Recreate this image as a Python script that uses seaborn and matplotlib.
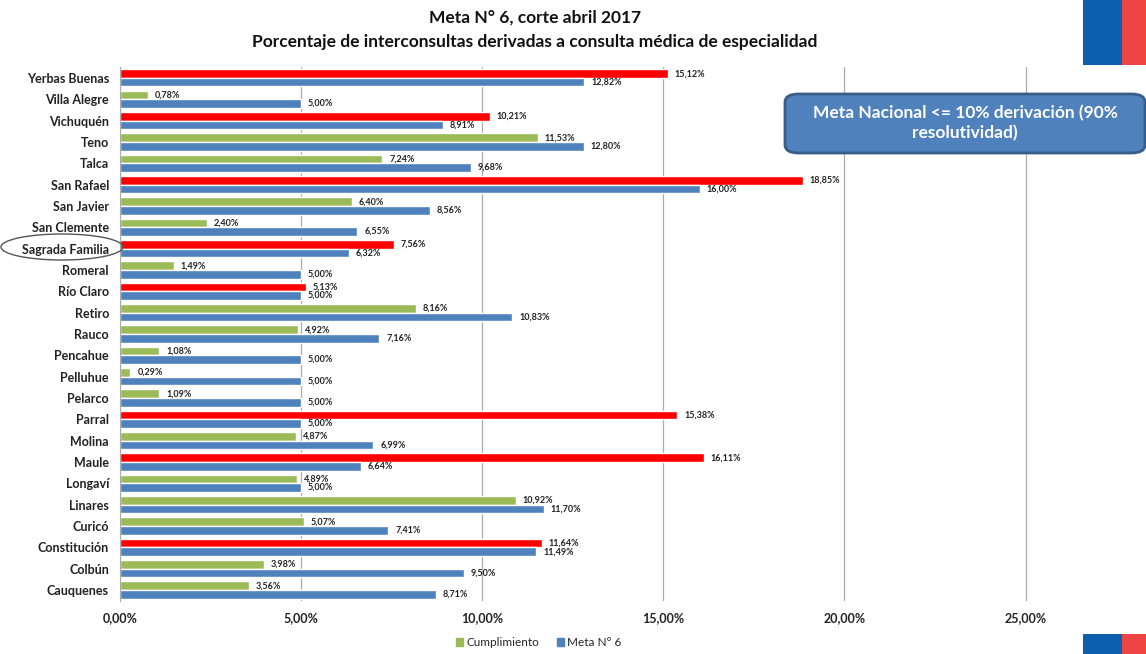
import numpy as np
import pandas as pd
import matplotlib
matplotlib.use("Agg")
import matplotlib.pyplot as plt
import seaborn as sns
from matplotlib.patches import Patch, Ellipse, Rectangle, FancyBboxPatch
from matplotlib.ticker import FuncFormatter

# data (fractions)
comunas = ['Yerbas Buenas', 'Villa Alegre', 'Vichuquén', 'Teno', 'Talca', 'San Rafael',
           'San Javier', 'San Clemente', 'Sagrada Familia', 'Romeral', 'Río Claro', 'Retiro',
           'Rauco', 'Pencahue', 'Pelluhue', 'Pelarco', 'Parral', 'Molina', 'Maule', 'Longaví',
           'Linares', 'Curicó', 'Constitución', 'Colbún', 'Cauquenes']
cumplimiento = [15.12, 0.78, 10.21, 11.53, 7.24, 18.85, 6.40, 2.40, 7.56, 1.49, 5.13, 8.16,
                4.92, 1.08, 0.29, 1.09, 15.38, 4.87, 16.11, 4.89, 10.92, 5.07, 11.64, 3.98, 3.56]
meta = [12.82, 5.00, 8.91, 12.80, 9.68, 16.00, 8.56, 6.55, 6.32, 5.00, 5.00, 10.83,
        7.16, 5.00, 5.00, 5.00, 5.00, 6.99, 6.64, 5.00, 11.70, 7.41, 11.49, 9.50, 8.71]
ticks = [0, 0.05, 0.10, 0.15, 0.20, 0.25]

GREEN = '#9BBB59'
BLUE = '#4F81BD'
RED = '#FF0000'

df = pd.DataFrame({
    'comuna': comunas * 2,
    'valor': [v / 100 for v in cumplimiento] + [v / 100 for v in meta],
    'serie': ['Cumplimiento'] * len(comunas) + ['Meta N° 6'] * len(comunas),
})

sns.set_style('white')
plt.rcParams['font.family'] = ['Lato', 'DejaVu Sans']

fig = plt.figure(figsize=(11.46, 6.54), dpi=100)
ax = fig.add_axes([0.1047, 0.0815, 0.874, 0.8156])

sns.barplot(data=df, y='comuna', x='valor', hue='serie', orient='h',
            palette=[GREEN, BLUE], width=0.8, ax=ax, legend=False, saturation=1)

# cumplimiento over meta is drawn red
for bar, c, m in zip(ax.containers[0], cumplimiento, meta):
    bar.set_facecolor(RED if c > m else GREEN)

fmt = lambda v: f'{v:.2f}%'.replace('.', ',')
ax.bar_label(ax.containers[0], labels=[fmt(v) for v in cumplimiento], padding=5,
             fontsize=6.5, fontweight='bold', color='#222222')
ax.bar_label(ax.containers[1], labels=[fmt(v) for v in meta], padding=5,
             fontsize=6.5, fontweight='bold', color='#222222')

ax.set_xlim(0, 0.2765)
ax.set_xticks(ticks)
ax.xaxis.set_major_formatter(FuncFormatter(lambda x, p: f'{x * 100:.2f}%'.replace('.', ',')))
ax.grid(axis='x', color='#ABABAB', linewidth=0.9)
ax.grid(axis='y', visible=False)
ax.set_axisbelow(True)
for s in ['top', 'right', 'bottom']:
    ax.spines[s].set_visible(False)
ax.spines['left'].set_color('#ABABAB')
ax.set_xlabel('')
ax.set_ylabel('')
ax.tick_params(axis='y', length=0, labelsize=9, pad=8)
ax.tick_params(axis='x', length=0, labelsize=9, pad=8)
for t in ax.get_yticklabels() + ax.get_xticklabels():
    t.set_fontweight('bold')
    t.set_color('#222222')

handles = [Patch(color=GREEN, label='Cumplimiento'), Patch(color=BLUE, label='Meta N° 6')]
fig.legend(handles=handles, loc='center', bbox_to_anchor=(0.47, 0.017), ncol=2,
           frameon=False, fontsize=8.5, handlelength=0.6, handleheight=0.6,
           handletextpad=0.3, columnspacing=1.5)

fig.text(0.467, 1 - 18 / 654, 'Meta N° 6, corte abril 2017', ha='center', va='center',
         fontsize=12.5, fontweight='bold', color='#111111')
fig.text(0.467, 1 - 42 / 654, 'Porcentaje de interconsultas derivadas a consulta médica de especialidad',
         ha='center', va='center', fontsize=12.5, fontweight='bold', color='#111111')

# callout box
box = FancyBboxPatch((785 / 1146, 1 - 153 / 654), 360 / 1146, 59 / 654,
                     boxstyle='round,pad=0,rounding_size=0.012', transform=fig.transFigure,
                     facecolor=BLUE, edgecolor='#385D8A', linewidth=2, zorder=5)
fig.patches.append(box)
fig.text(965 / 1146, 1 - 123 / 654, 'Meta Nacional <= 10% derivación (90%\nresolutividad)',
         ha='center', va='center', fontsize=12.5, fontweight='bold', color='white',
         linespacing=1.3, zorder=6)

# ellipse around Sagrada Familia
fig.patches.append(Ellipse((62 / 1146, 1 - 247 / 654), 122 / 1146, 26 / 654,
                           transform=fig.transFigure, fill=False, edgecolor='#555555',
                           linewidth=1))

# corner flag marks
for y0, h in [(1 - 65 / 654, 65 / 654), (0, 20 / 654)]:
    fig.patches.append(Rectangle((1083 / 1146, y0), 39 / 1146, h, transform=fig.transFigure,
                                 facecolor='#0B5FAE', edgecolor='none'))
    fig.patches.append(Rectangle((1122 / 1146, y0), 24 / 1146, h, transform=fig.transFigure,
                                 facecolor='#EF4444', edgecolor='none'))

fig.savefig('out.png', dpi=100)
